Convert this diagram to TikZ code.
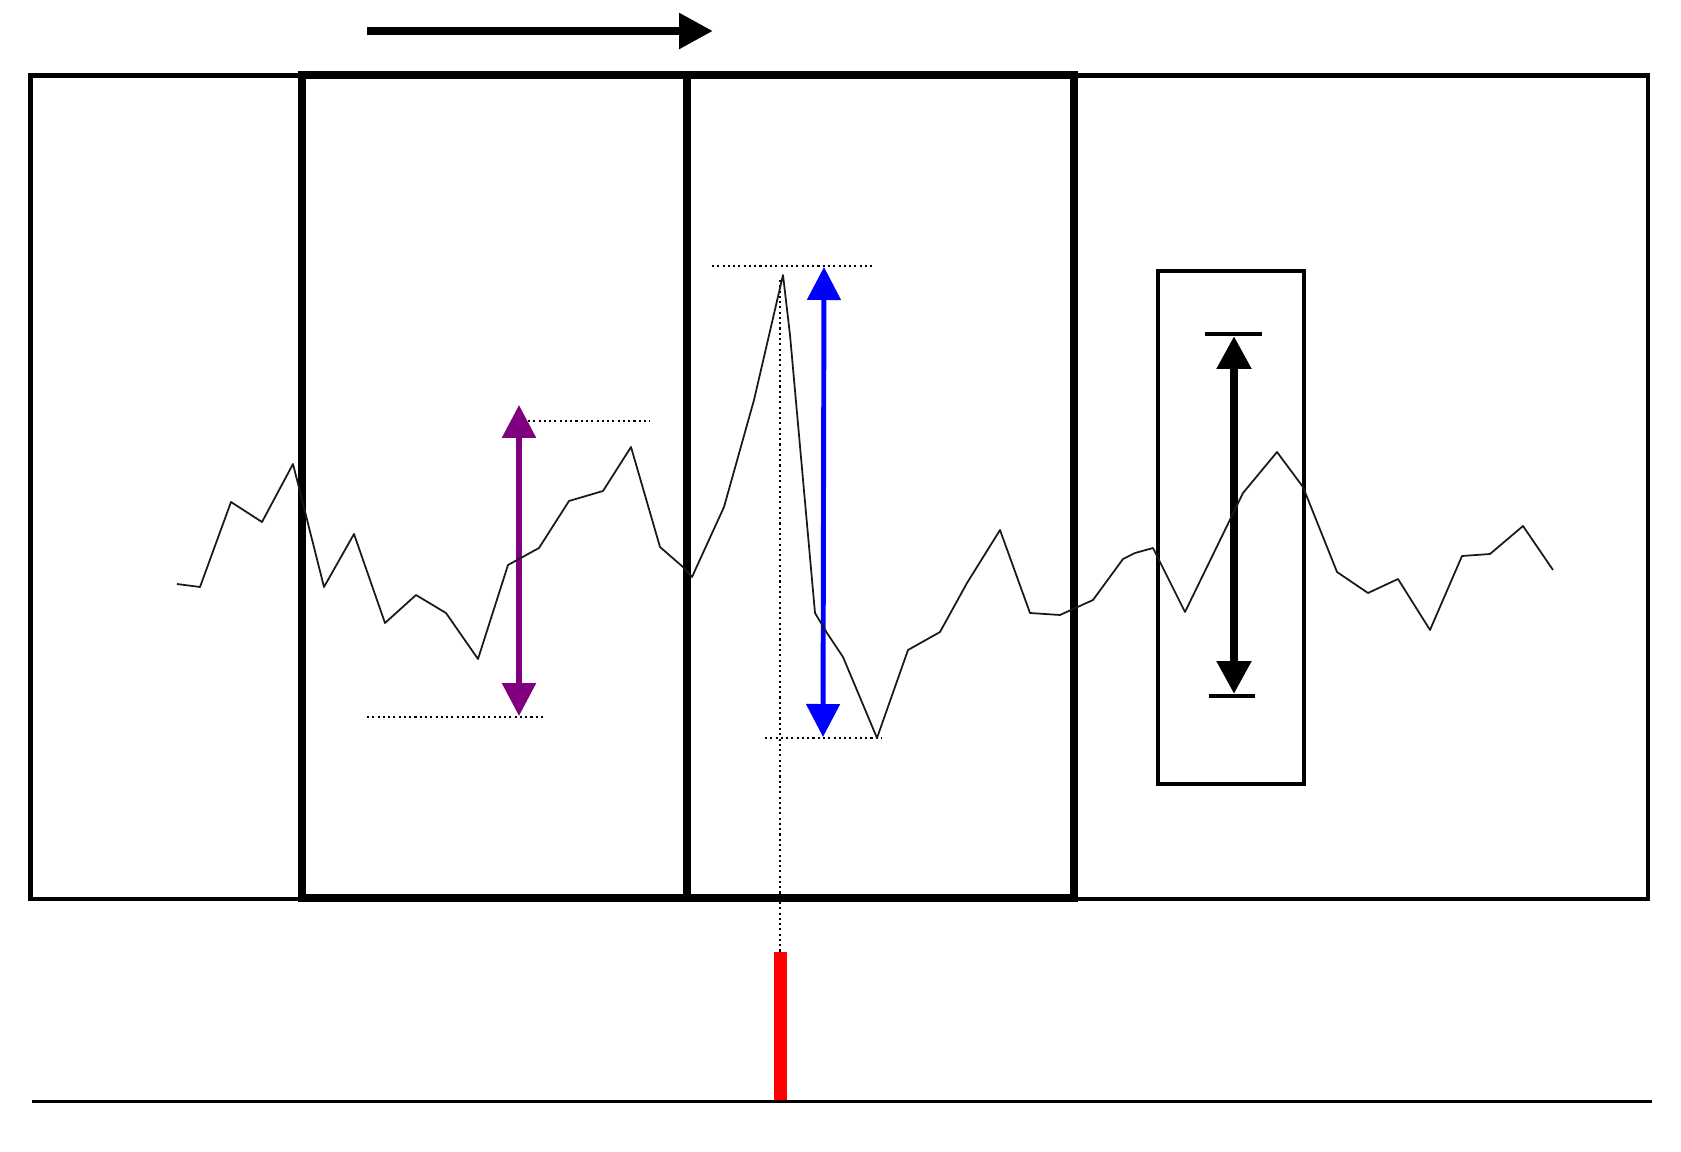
\documentclass[tikz,border=0pt]{standalone}
\usetikzlibrary{arrows.meta}
\definecolor{webpurple}{RGB}{128,0,128}
\tikzset{
  frame/.style={line width=2.3pt},
  window/.style={line width=5pt},
  guide/.style={line width=1.3pt,dash pattern=on 1.2pt off 1.8pt},
  signal/.style={black!90,line width=1pt,line join=round},
  tri/.style={{Triangle[length=0.66cm,width=0.66cm]}-{Triangle[length=0.66cm,width=0.66cm]}},
  fwd/.style={-{Triangle[length=0.68cm,width=0.68cm]}}
}
\begin{document}
\begin{tikzpicture}[x=0.02cm,y=-0.02cm]
\useasboundingbox (0,0) rectangle (1681,1152);
% frames
\coordinate (O1) at (30.5,75.5); \coordinate (O2) at (1648,899);
\coordinate (W1) at (302,75); \coordinate (W2) at (687,898); \coordinate (W3) at (1074,75);
\coordinate (S1) at (1158,271); \coordinate (S2) at (1304,784);
\draw[frame] (O1) rectangle (O2);
\draw[window] (W1) rectangle (W2);
\draw[window] (W2) rectangle (W3);
\draw[line width=2.4pt] (S1) rectangle (S2);
% direction
\coordinate (T1) at (367,31); \coordinate (T2) at (713,31);
\draw[window,fwd] (T1) -- (T2);
% purple range
\coordinate (P1) at (519,716); \coordinate (P2) at (519,405);
\draw[guide] (528,421) -- (650,421);
\draw[guide] (367,717) -- (544,717);
\draw[webpurple,line width=3.3pt,tri] (P1) -- (P2);
% blue range
\coordinate (B1) at (823,737); \coordinate (B2) at (824,267);
\draw[guide] (712,266) -- (873,266);
\draw[guide] (765,738) -- (882,738);
\draw[guide] (780,280) -- (780,952);
\draw[blue,line width=2.8pt,tri] (B1) -- (B2);
% black range
\coordinate (K1) at (1234,694); \coordinate (K2) at (1234,336);
\draw[line width=2.4pt] (1205,334) -- (1262,334);
\draw[line width=2.4pt] (1209,696) -- (1255,696);
\draw[line width=4.6pt,tri] (K1) -- (K2);
% marker and baseline
\coordinate (R1) at (780.5,952); \coordinate (R2) at (780.5,1101);
\draw[red,line width=7.4pt] (R1) -- (R2);
\draw[line width=1.7pt] (32,1101.5) -- (1652,1101.5);
% signal
\draw[signal] (177,584) -- (200,587) -- (231,502) -- (262,522) -- (293,464) -- (324,587)
  -- (354,534) -- (385,623) -- (416,595) -- (446,613) -- (478,659) -- (508,565)
  -- (539,548) -- (569,501) -- (603,491) -- (631,447) -- (660,547) -- (683,567)
  -- (692,577) -- (724,507) -- (754,400) -- (783,275) -- (790,335) -- (815,613) -- (827,633)
  -- (843,657) -- (877,738) -- (908,650) -- (940,632) -- (967,583) -- (1000,530)
  -- (1030,613) -- (1060,615) -- (1093,600) -- (1123,559) -- (1135,553) -- (1153,548)
  -- (1185,612) -- (1243,493) -- (1277,452) -- (1303,487) -- (1337,572) -- (1368,593)
  -- (1398,579) -- (1430,630) -- (1462,556) -- (1490,554) -- (1523,526) -- (1553,570);
\end{tikzpicture}
\end{document}
